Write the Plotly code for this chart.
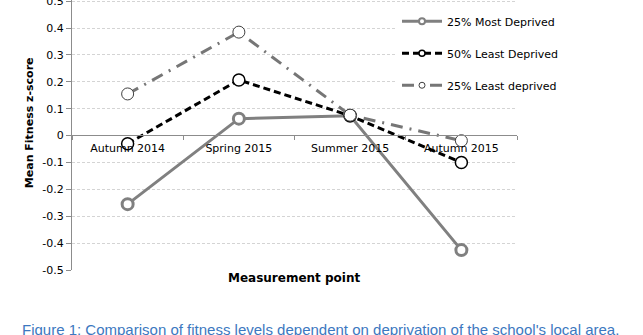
import plotly.graph_objects as go

# Measurement points and mean fitness z-scores per deprivation group
measurement_points = ["Autumn 2014", "Spring 2015", "Summer 2015", "Autumn 2015"]
most_deprived_25 = [-0.255, 0.063, 0.074, -0.426]
least_deprived_50 = [-0.030, 0.207, 0.074, -0.100]
least_deprived_25 = [0.155, 0.385, 0.076, -0.019]
y_ticks = [0.5, 0.4, 0.3, 0.2, 0.1, 0, -0.1, -0.2, -0.3, -0.4, -0.5]

FONT = "DejaVu Sans, Verdana, sans-serif"

series = [
    dict(name="25% Most Deprived", y=most_deprived_25,
         line=dict(color="#808080", width=3),
         marker_line=dict(color="#808080", width=3), size=11, legend_line_w=2),
    dict(name="50% Least Deprived", y=least_deprived_50,
         line=dict(color="black", width=3, dash="7px,4px"),
         marker_line=dict(color="black", width=1.5), size=12, legend_line_w=1.5),
    dict(name="25% Least deprived", y=least_deprived_25,
         line=dict(color="#767676", width=3, dash="12px,7px,2px,7px"),
         marker_line=dict(color="#404040", width=1), size=12, legend_line_w=1),
]

fig = go.Figure()

for i, s in enumerate(series):
    # plotted series
    fig.add_trace(go.Scatter(
        x=measurement_points, y=s["y"], name=s["name"],
        mode="lines+markers", line=s["line"],
        marker=dict(symbol="circle", size=s["size"], color="white", line=s["marker_line"]),
        showlegend=False,
    ))
    # legend key with a smaller marker
    fig.add_trace(go.Scatter(
        x=[None], y=[None], name=s["name"],
        mode="lines+markers", line=s["line"],
        marker=dict(symbol="circle", size=6, color="white",
                    line=dict(color=s["marker_line"]["color"], width=s["legend_line_w"])),
        legendgroup=f"g{i}", showlegend=True,
    ))

fig.update_layout(
    width=643, height=335,
    margin=dict(l=72, r=126, t=0, b=65, autoexpand=False),
    paper_bgcolor="white", plot_bgcolor="white",
    font=dict(family=FONT, size=11, color="black"),
    showlegend=True,
    legend=dict(
        x=(397 - 72) / 445, y=0.975, xanchor="left", yanchor="top",
        bgcolor="white", font=dict(family=FONT, size=11, color="black"),
        traceorder="grouped", tracegroupgap=13, itemwidth=40,
    ),
    xaxis=dict(
        type="category", range=[-0.5, 3.5],
        anchor="free", position=0.5,
        showline=True, linecolor="#8c8c8c", linewidth=1,
        ticks="outside", ticklen=4, tickcolor="#8c8c8c", tickson="boundaries",
        ticklabelstandoff=3, automargin=False,
        showgrid=False, zeroline=False,
        tickfont=dict(family=FONT, size=11, color="black"),
    ),
    yaxis=dict(
        range=[-0.5, 0.5045], tickvals=y_ticks,
        ticktext=[f"{v:g}" for v in y_ticks],
        ticklabeloverflow="allow", automargin=False,
        showline=True, linecolor="#8c8c8c", linewidth=1,
        ticks="outside", ticklen=5, tickcolor="#8c8c8c",
        showgrid=True, gridcolor="#d4d4d4", griddash="3px,2px", gridwidth=1,
        zeroline=False,
        tickfont=dict(family=FONT, size=11, color="black"),
    ),
    annotations=[
        dict(text="<b>Mean Fitness z-score</b>", textangle=-90,
             xref="paper", yref="paper", x=-0.094, y=1 - 123 / 270,
             xanchor="center", yanchor="middle", showarrow=False,
             font=dict(family=FONT, size=11, color="black")),
        dict(text="<b>Measurement point</b>",
             xref="paper", yref="paper", x=0.5, y=-0.03,
             xanchor="center", yanchor="middle", showarrow=False,
             font=dict(family=FONT, size=12, color="black")),
        dict(text="Figure 1: Comparison of fitness levels dependent on deprivation of the school's local area.",
             xref="paper", yref="paper", x=(320 - 72) / 445, y=1 - 329 / 270,
             xanchor="center", yanchor="middle", showarrow=False,
             font=dict(family="Liberation Sans, Arial, sans-serif", size=15, color="#3C78C0")),
    ],
)

fig.write_html("out.html")
